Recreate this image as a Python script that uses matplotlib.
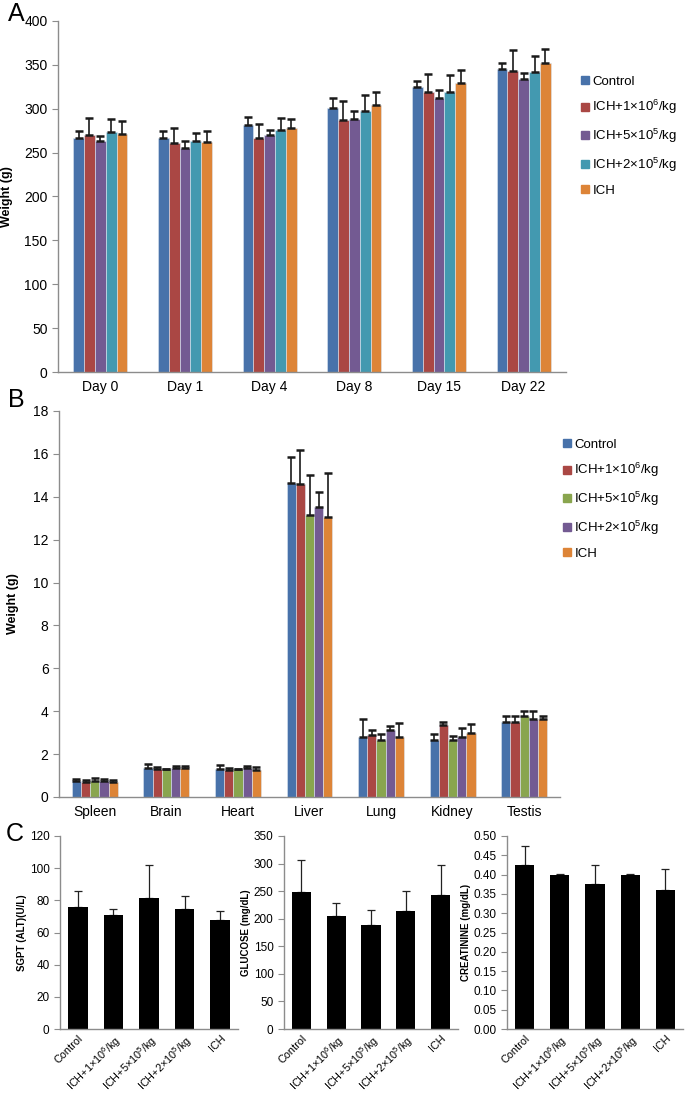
import matplotlib
matplotlib.use("Agg")
import matplotlib.pyplot as plt
from matplotlib.lines import Line2D
import numpy as np

plt.rcParams['font.family'] = ['Liberation Sans', 'DejaVu Sans']
plt.rcParams['mathtext.fontset'] = 'custom'
plt.rcParams['mathtext.rm'] = 'Liberation Sans'
plt.rcParams['mathtext.it'] = 'Liberation Sans'

# ---- panel A: body weight over time ----
days = ["Day 0", "Day 1", "Day 4", "Day 8", "Day 15", "Day 22"]
series_a = ["Control", "ICH+1×10$^6$/kg", "ICH+5×10$^5$/kg", "ICH+2×10$^5$/kg", "ICH"]
weight_mean = [
    [266.7, 266.7, 281.1, 300.8, 325.2, 345.2],
    [269.7, 260.4, 266.3, 287.1, 319.3, 343.4],
    [263.0, 254.9, 270.4, 288.2, 312.3, 333.4],
    [273.0, 263.7, 275.6, 297.4, 319.3, 341.5],
    [271.1, 262.6, 277.8, 304.5, 328.9, 351.9],
]
weight_top = [
    [275.2, 275.2, 291.1, 311.9, 331.5, 352.6],
    [288.9, 278.6, 283.0, 308.5, 340.0, 367.0],
    [269.3, 263.4, 276.3, 297.0, 321.1, 340.8],
    [287.8, 272.6, 290.0, 315.6, 338.9, 359.6],
    [285.6, 275.2, 287.8, 319.0, 344.5, 367.8],
]
colors_a = ["#4872aa", "#aa4744", "#735a92", "#4399b0", "#dd8437"]

# ---- panel B: organ weights ----
organs = ["Spleen", "Brain", "Heart", "Liver", "Lung", "Kidney", "Testis"]
series_b = ["Control", "ICH+1×10$^6$/kg", "ICH+5×10$^5$/kg", "ICH+2×10$^5$/kg", "ICH"]
organ_mean = [
    [0.76, 1.37, 1.32, 14.64, 2.78, 2.64, 3.51],
    [0.71, 1.29, 1.27, 14.61, 2.90, 3.34, 3.48],
    [0.76, 1.29, 1.29, 13.17, 2.64, 2.67, 3.80],
    [0.76, 1.37, 1.37, 13.54, 3.14, 2.81, 3.62],
    [0.68, 1.37, 1.26, 13.06, 2.81, 2.98, 3.65],
]
organ_top = [
    [0.84, 1.54, 1.49, 15.87, 3.63, 2.93, 3.80],
    [0.79, 1.41, 1.33, 16.20, 3.14, 3.51, 3.77],
    [0.89, 1.31, 1.31, 15.00, 2.95, 2.84, 4.02],
    [0.84, 1.43, 1.44, 14.22, 3.31, 3.20, 4.00],
    [0.81, 1.43, 1.40, 15.10, 3.46, 3.42, 3.77],
]
colors_b = ["#4872aa", "#aa4744", "#89a54e", "#735a92", "#dd8437"]

# ---- panel C: serum chemistry ----
groups_c = ["Control", "ICH+1×10$^6$/kg", "ICH+5×10$^5$/kg", "ICH+2×10$^5$/kg", "ICH"]
sgpt_mean = [76.1, 70.7, 81.5, 74.8, 68.0]
sgpt_top = [85.8, 74.8, 101.8, 82.9, 73.6]
glucose_mean = [249, 205, 188, 214, 243]
glucose_top = [307, 229, 216, 251, 297]
creat_mean = [0.425, 0.400, 0.375, 0.400, 0.360]
creat_top = [0.475, 0.401, 0.425, 0.401, 0.415]

W, H = 685, 1093
fig = plt.figure(figsize=(W / 100, H / 100), dpi=100)


def px_axes(left, right, top, bottom):
    return fig.add_axes([left / W, 1 - bottom / H, (right - left) / W, (bottom - top) / H])


def style(ax, fs=9):
    for s in ["top", "right"]:
        ax.spines[s].set_visible(False)
    for s in ["left", "bottom"]:
        ax.spines[s].set_color("#8c8c8c")
        ax.spines[s].set_linewidth(1.0)
    ax.tick_params(axis="y", direction="out", length=4, color="#8c8c8c", labelsize=fs)
    ax.tick_params(axis="x", length=0, labelsize=fs, pad=6)


def grouped(ax, cats, means, tops, colors, width):
    x = np.arange(len(cats))
    n = len(means)
    for i in range(n):
        xs = x + (i - (n - 1) / 2) * width
        m = np.array(means[i])
        t = np.array(tops[i])
        ax.bar(xs, m, width, color=colors[i], edgecolor="#dce6f2", linewidth=0.4, zorder=2)
        ax.errorbar(xs, m, yerr=[np.zeros_like(m), t - m], fmt="none", ecolor="#1a1a1a",
                    elinewidth=1.2, capsize=2.8, capthick=1.8, zorder=3)
    ax.set_xticks(x)
    ax.set_xticklabels(cats)
    ax.set_xlim(-0.5, len(cats) - 0.5)


def legend(handles_colors, labels, x, y):
    handles = [Line2D([], [], marker="s", ls="none", color=c, markersize=5.5) for c in handles_colors]
    fig.legend(handles, labels, loc="upper left", bbox_to_anchor=(x / W, 1 - y / H),
               frameon=False, fontsize=9.5, handletextpad=0.25, labelspacing=0.8,
               handlelength=0.6, borderaxespad=0)


# Panel A
axA = px_axes(58, 566, 21, 372)
grouped(axA, days, weight_mean, weight_top, colors_a, 0.128)
axA.set_ylim(0, 400)
axA.set_yticks(range(0, 401, 50))
axA.set_ylabel("Weight (g)", fontsize=9, fontweight="bold", labelpad=8)
style(axA, 10)
legend(colors_a, series_a, 576, 70)
fig.text(8 / W, 1 - 2 / H, "A", fontsize=18, va="top")

# Panel B
axB = px_axes(59, 560, 411, 797)
grouped(axB, organs, organ_mean, organ_top, colors_b, 0.128)
axB.set_ylim(0, 18)
axB.set_yticks(range(0, 19, 2))
axB.set_ylabel("Weight (g)", fontsize=9, fontweight="bold", labelpad=10)
style(axB, 10)
legend(colors_b, series_b, 558, 433)
fig.text(8 / W, 1 - 388 / H, "B", fontsize=18, va="top")

# Panel C
panels_c = [
    (60, 238, sgpt_mean, sgpt_top, (0, 120), np.arange(0, 121, 20), "SGPT (ALT)(U/L)", "{:.0f}"),
    (284, 458, glucose_mean, glucose_top, (0, 350), np.arange(0, 351, 50), "GLUCOSE (mg/dL)", "{:.0f}"),
    (507, 683, creat_mean, creat_top, (0, 0.5), np.arange(0, 0.501, 0.05), "CREATININE (mg/dL)", "{:.2f}"),
]
for left, right, m, t, ylim, yt, lab, fmt in panels_c:
    ax = px_axes(left, right, 836, 1029)
    x = np.arange(len(groups_c))
    m = np.array(m, dtype=float)
    t = np.array(t, dtype=float)
    ax.bar(x, m, 0.55, color="black", zorder=2)
    ax.errorbar(x, m, yerr=[np.zeros_like(m), t - m], fmt="none", ecolor="#222222",
                elinewidth=0.9, capsize=3, capthick=0.9, zorder=1)
    ax.set_xlim(-0.5, len(groups_c) - 0.5)
    ax.set_ylim(*ylim)
    ax.set_yticks(yt)
    ax.set_yticklabels([fmt.format(v) for v in yt])
    ax.set_xticks(x)
    ax.set_xticklabels(groups_c, rotation=45, ha="right", rotation_mode="anchor")
    ax.set_ylabel(lab, fontsize=7, fontweight="bold", labelpad=2)
    style(ax, 8.5)
    ax.tick_params(axis="x", pad=3, labelsize=7.8)
fig.text(6 / W, 1 - 822 / H, "C", fontsize=18, va="top")

fig.savefig("out.png", dpi=100)
